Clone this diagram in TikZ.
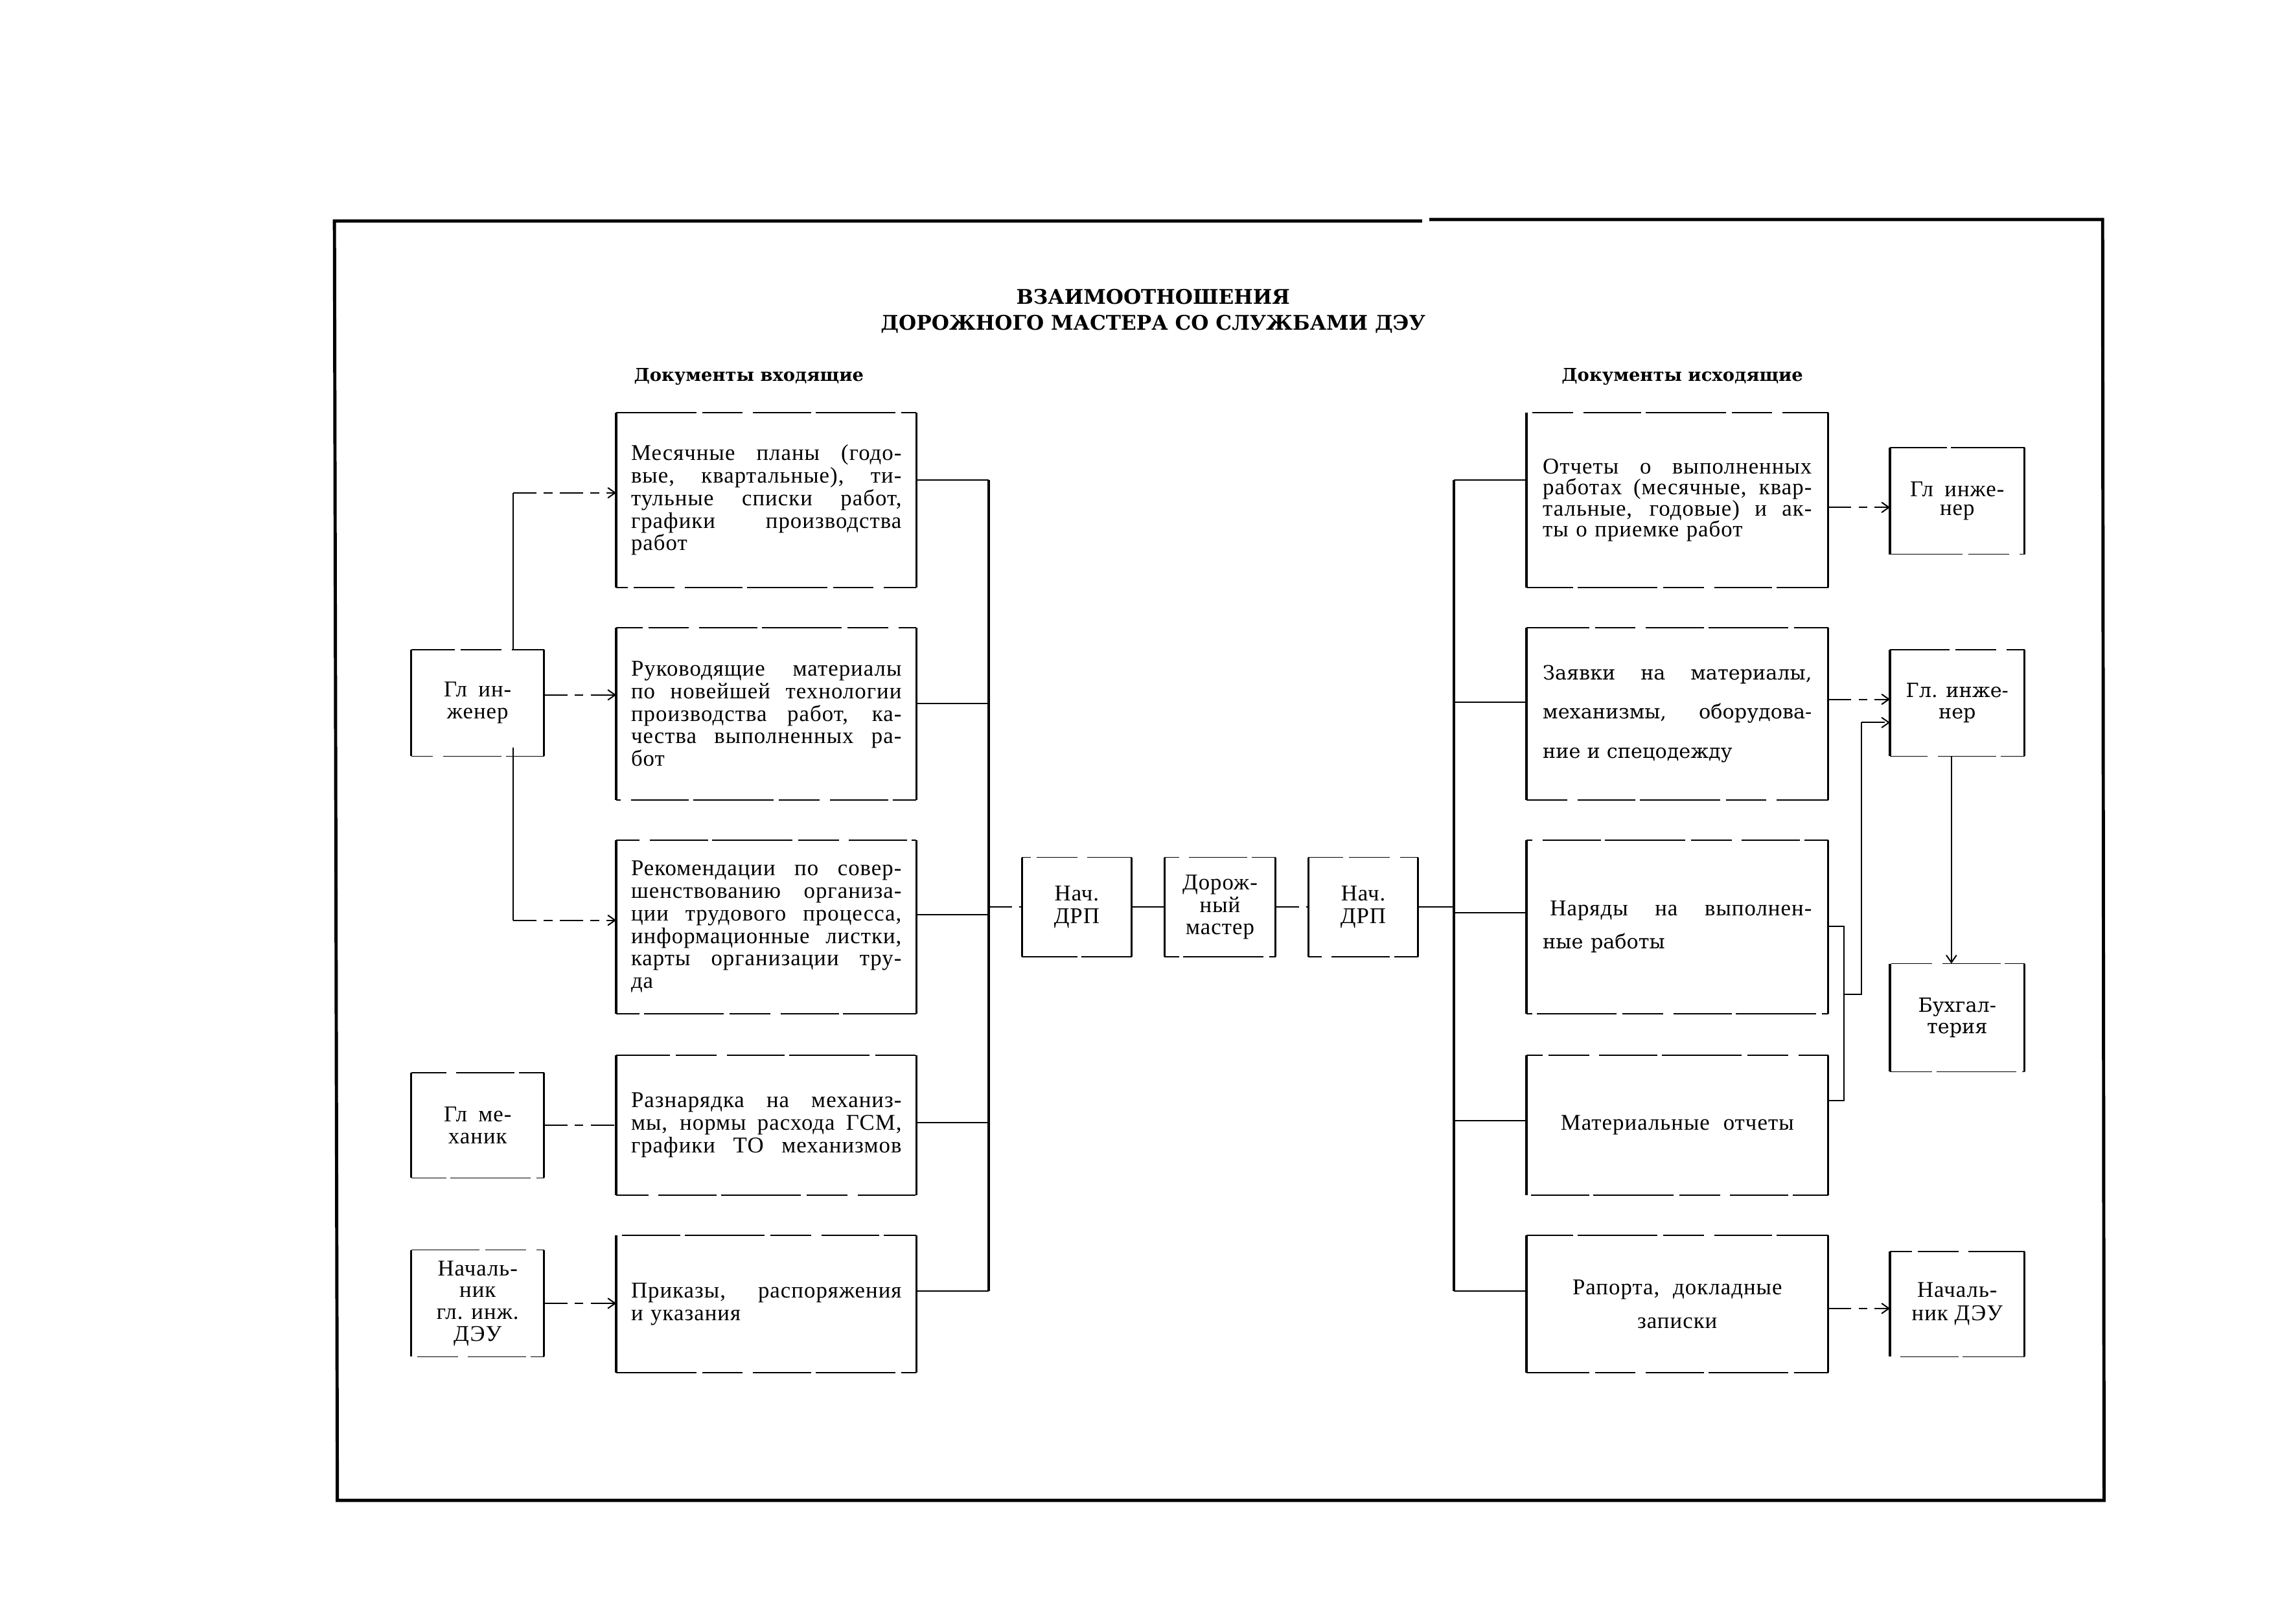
\documentclass[tikz,border=0pt]{standalone}
\usepackage{fontspec}
\setmainfont{Liberation Serif}[LetterSpace=3]
\newfontfamily\wideserif{DejaVu Serif}
\usetikzlibrary{arrows.meta}
\newcommand{\jl}[1]{\makebox[\linewidth][s]{\spaceskip=0.3em plus 1fil\xspaceskip=0.4em plus 1fil\relax #1}}
\newcommand{\bodyf}{\fontsize{15.5}{15.5}\selectfont}
\begin{document}
\begin{tikzpicture}[x=1pt,y=-1pt,
  frame/.style={line width=2.2pt},
  vside/.style={line width=1.5pt},
  hside/.style={line width=0.7pt, dash pattern=on 55pt off 4pt on 28pt off 7pt on 40pt off 3pt},
  conn/.style={line width=0.9pt},
  bus/.style={line width=1.7pt},
  dline/.style={line width=0.9pt, dash pattern=on 16pt off 5pt on 6pt off 5pt},
  darr/.style={dline, -{Straight Barb[length=5pt,width=7pt]}},
  docbox/.style={inner sep=0pt, minimum width=206pt, text width=186pt, align=left, font=\bodyf},
  smallbox/.style={inner sep=0pt, minimum width=91pt, minimum height=73pt, align=center, font=\fontsize{15.5}{15}\selectfont},
  midbox/.style={inner sep=0pt, minimum width=75pt, minimum height=68pt, align=center, font=\fontsize{15.5}{15.5}\selectfont},
  titlef/.style={inner sep=0pt, font=\wideserif\bfseries\fontsize{13.9}{16}\selectfont},
  headf/.style={inner sep=0pt, font=\wideserif\bfseries\fontsize{12.2}{16}\selectfont}]
\useasboundingbox (0,0) rectangle (1568,1117);
% frame
\draw[frame] (978,152) -- (230,152) -- (232,1032) -- (1447,1032) -- (1446,151) -- (983,151);
% titles
\node[titlef] (t1) at (793,204) {ВЗАИМООТНОШЕНИЯ};
\node[titlef] (t2) at (793,223) {ДОРОЖНОГО МАСТЕРА СО СЛУЖБАМИ ДЭУ};
\node[headf] (h1) at (515,259) {Документы входящие};
\node[headf] (h2) at (1157,259) {Документы исходящие};
% left document boxes
\node[docbox, minimum height=120pt] (b1) at (527,344) {\jl{Месячные планы (годо-}\\ \jl{вые, квартальные), ти-}\\ \jl{тульные списки работ,}\\ \jl{графики производства}\\ работ};
\node[docbox, minimum height=118pt] (b2) at (527,491) {\jl{Руководящие материалы}\\ \jl{по новейшей технологии}\\ \jl{производства работ, ка-}\\ \jl{чества выполненных ра-}\\ бот};
\node[docbox, minimum height=119pt] (b3) at (527,637.5) {\jl{Рекомендации по совер-}\\ \jl{шенствованию организа-}\\ \jl{ции трудового процесса,}\\ \jl{информационные листки,}\\ \jl{карты организации тру-}\\ да};
\node[docbox, minimum height=96pt] (b4) at (527,774) {\jl{Разнарядка на механиз-}\\ \jl{мы, нормы расхода ГСМ,}\\ \jl{графики ТО механизмов}};
\node[docbox, minimum height=94pt] (b5) at (527,897) {\jl{Приказы, распоряжения}\\ и указания};
% right document boxes
\node[docbox, minimum width=207pt, text width=185pt, minimum height=120pt, font=\fontsize{15.5}{14.5}\selectfont] (r1) at (1153.5,344) {\jl{Отчеты о выполненных}\\ \jl{работах (месячные, квар-}\\ \jl{тальные, годовые) и ак-}\\ ты о приемке работ};
\node[docbox, minimum width=207pt, text width=185pt, minimum height=118pt, font=\wideserif\fontsize{13.5}{27}\selectfont] (r2) at (1153.5,491) {\jl{Заявки на материалы,}\\ \jl{механизмы, оборудова-}\\ ние и спецодежду};
\node[docbox, minimum width=207pt, text width=185pt, minimum height=119pt, font=\fontsize{15.5}{23}\selectfont] (r3) at (1153.5,637.5) {\jl{\hspace*{5pt}Наряды на выполнен-}\\ {\wideserif\fontsize{13.5}{23}\selectfont ные работы}};
\node[docbox, minimum width=207pt, text width=185pt, minimum height=96pt, align=center] (r4) at (1153.5,774) {Материальные\hspace{0.6em}отчеты};
\node[docbox, minimum width=207pt, text width=185pt, minimum height=94pt, align=center, font=\fontsize{15.5}{23}\selectfont] (r5) at (1153.5,897) {Рапорта,\hspace{0.6em}докладные\\ записки};
% far left boxes
\node[smallbox] (gi) at (328.5,483.5) {Гл\hspace{0.5em}ин-\\женер};
\node[smallbox, minimum height=72pt] (gm) at (328.5,774) {Гл\hspace{0.5em}ме-\\ханик};
\node[smallbox] (nach) at (328.5,896.5) {Началь-\\ник\\гл. инж.\\ДЭУ};
% centre boxes
\node[midbox] (n1) at (740.5,624) {Нач.\\ДРП};
\node[midbox, minimum width=76pt] (dm) at (839,624) {Дорож-\\ный\\мастер};
\node[midbox] (n2) at (937.5,624) {Нач.\\ДРП};
% far right boxes
\node[smallbox, minimum width=92pt, font=\fontsize{15.5}{13}\selectfont] (fr1) at (1346,344.5) {Гл\hspace{0.5em}инже-\\нер};
\node[smallbox, minimum width=92pt, font=\wideserif\fontsize{13.5}{15}\selectfont] (fr2) at (1346,483.5) {Гл. инже-\\нер};
\node[smallbox, minimum width=92pt, minimum height=74pt, font=\wideserif\fontsize{13.5}{15}\selectfont] (buh) at (1346,700) {Бухгал-\\терия};
\node[smallbox, minimum width=92pt, minimum height=72pt, font=\fontsize{15.5}{16}\selectfont] (fr4) at (1346,897) {Началь-\\ник ДЭУ};
% box borders (irregular breaks in the horizontal edges)
\foreach \n/\p in {b1/0,b2/37,b3/71,b4/18,b5/90,r1/55,r2/12,r3/83,r4/44,r5/102,gi/25,gm/63,nach/8,n1/49,dm/77,n2/31,fr1/95,fr2/14,buh/58,fr4/40} {
  \draw[vside] (\n.north west) -- (\n.south west) (\n.north east) -- (\n.south east);
  \draw[hside, dash phase=\p pt] (\n.north west) -- (\n.north east);
  \draw[hside, dash phase=\p pt+47pt] (\n.south west) -- (\n.south east);
}
% left connectors
\coordinate (gix) at (353,0);
\coordinate (g1) at (gix |- 0,339);
\coordinate (g3) at (gix |- 0,633);
\draw[conn] (gi.north -| gix) -- (g1);
\draw[darr] (g1) -- (b1.west |- g1);
\draw[conn] ([yshift=6pt]gi.south -| gix) -- (g3);
\draw[darr] (g3) -- (b3.west |- g3);
\draw[darr] (gi.east |- 0,478) -- (b2.west |- 0,478);
\draw[dline] (gm.east) -- (gm.east -| b4.west);
\draw[darr] (nach.east) -- (nach.east -| b5.west);
% left bus
\coordinate (lbx) at (680,0);
\draw[bus] (lbx |- 0,330) -- (lbx |- 0,888);
\foreach \n/\y in {b1/330,b2/484,b3/629,b4/772,b5/888}
  \draw[conn] (\n.east |- 0,\y) -- (lbx |- 0,\y);
% right bus
\coordinate (rbx) at (1000,0);
\draw[bus] (rbx |- 0,330) -- (rbx |- 0,888);
\foreach \n/\y in {r1/330,r2/483,r3/628,r4/771,r5/888}
  \draw[conn] (rbx |- 0,\y) -- (\n.west |- 0,\y);
% centre chain
\draw[dline] (lbx |- n1.west) -- (n1.west);
\draw[conn] (n1.east) -- (dm.west);
\draw[dline] (dm.east) -- (n2.west);
\draw[conn] (n2.east) -- (rbx |- n2.east);
% right connectors
\draw[darr] (r1.east |- 0,349) -- (fr1.west |- 0,349);
\draw[darr] (r2.east |- 0,481) -- (fr2.west |- 0,481);
\coordinate (bx1) at (1268,0);
\coordinate (bx2) at (1280,0);
\draw[conn] (r3.east |- 0,637) -- (bx1 |- 0,637) -- (bx1 |- 0,757) -- (r4.east |- 0,757);
\draw[conn] (bx1 |- 0,684) -- (bx2 |- 0,684) -- (bx2 |- 0,497);
\draw[darr] (bx2 |- 0,497) -- (fr2.west |- 0,497);
\draw[conn, -{Straight Barb[length=5pt,width=7pt]}] (fr2.south -| 1342,0) -- (buh.north -| 1342,0);
\draw[darr] (r5.east |- 0,900) -- (fr4.west |- 0,900);
\end{tikzpicture}
\end{document}
